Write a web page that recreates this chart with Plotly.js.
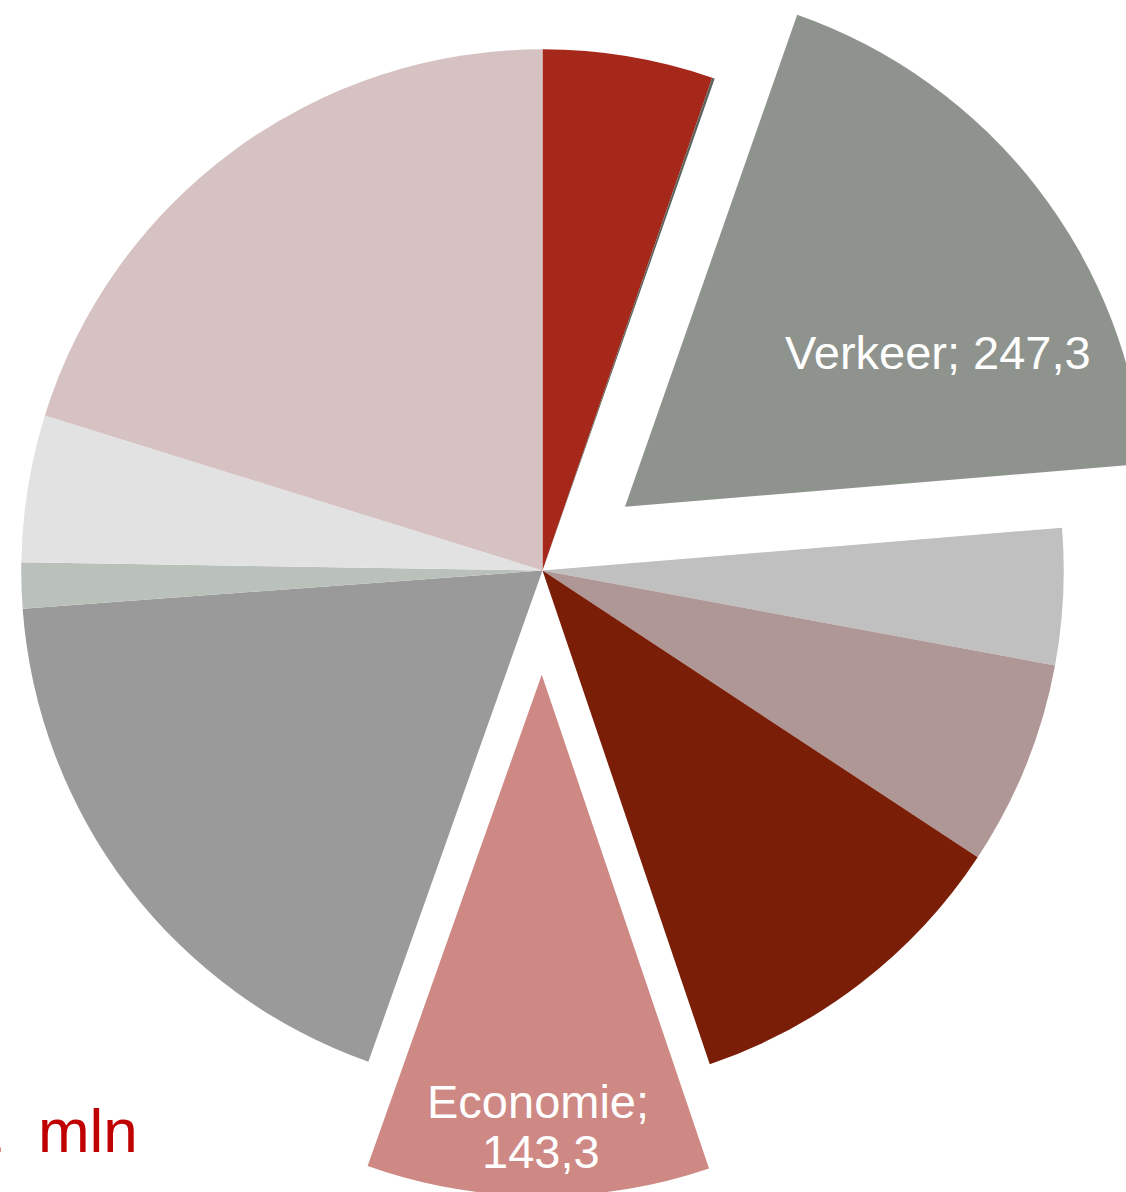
<!DOCTYPE html>
<html>
<head>
<meta charset="utf-8">
<script src="https://cdn.plot.ly/plotly-3.0.1.min.js"></script>
<style>
html,body{margin:0;padding:0;width:1126px;height:1192px;overflow:hidden;background:#fff;}
#chart{position:absolute;left:-83.5px;top:-55.5px;width:1251px;height:1251px;}
</style>
</head>
<body>
<div id="chart"></div>
<script>
// Categories (clockwise from 12 o'clock); only two are labelled in the source
const categories = ["Categorie 1","Categorie 2","Verkeer","Categorie 3","Categorie 4","Categorie 5","Economie","Categorie 6","Categorie 7","Categorie 8","Categorie 9"];
const values     = [71.2, 1.1, 247.3, 57.0, 85.8, 142.0, 143.3, 248.4, 19.1, 61.5, 272.4];
const colors     = ["#A6281A","#5B635C","#8F938D","#C0C0C0","#AF9796","#7A1E08","#CE8985","#9A9A9A","#BAC0BA","#E2E2E2","#D6C2C2"];
const pulls      = [0, 0, 0.2, 0, 0, 0, 0.2, 0, 0, 0, 0];
const shownLabels = ["Verkeer", "Economie"];
const totalText = "1\u00A0 mln";

function fmt(v){ return v.toFixed(1).replace('.', ','); }

const trace = {
  type: 'pie',
  labels: categories,
  values: values,
  sort: false,
  direction: 'clockwise',
  rotation: 0,
  pull: pulls,
  marker: {colors: colors, line: {width: 0}},
  textinfo: 'none',
  hoverinfo: 'label+value',
  showlegend: false
};

const iV = categories.indexOf(shownLabels[0]);
const iE = categories.indexOf(shownLabels[1]);
const lblFont = {size:47, color:'#ffffff', family:'Liberation Sans, Arial, sans-serif'};

const layout = {
  width: 1251, height: 1251,
  margin: {l:0, r:0, t:0, b:0},
  paper_bgcolor: '#ffffff',
  showlegend: false,
  font: {family: 'Liberation Sans, Arial, sans-serif'},
  annotations: [
    {text: categories[iV] + '; ' + fmt(values[iV]), xref:'paper', yref:'paper', x:0.8165, y:0.6743,
     xanchor:'center', yanchor:'middle', showarrow:false, font:lblFont},
    {text: categories[iE] + ';', xref:'paper', yref:'paper', x:0.4968, y:0.0755,
     xanchor:'center', yanchor:'middle', showarrow:false, font:lblFont},
    {text: fmt(values[iE]), xref:'paper', yref:'paper', x:0.4992, y:0.0356,
     xanchor:'center', yanchor:'middle', showarrow:false, font:lblFont},
    {text: totalText, xref:'paper', yref:'paper', x:0.178, y:0.0524,
     xanchor:'right', yanchor:'middle', showarrow:false, font:{size:62, color:'#C00000'}}
  ]
};

Plotly.newPlot('chart', [trace], layout, {displayModeBar:false, staticPlot:true});
</script>
</body>
</html>
